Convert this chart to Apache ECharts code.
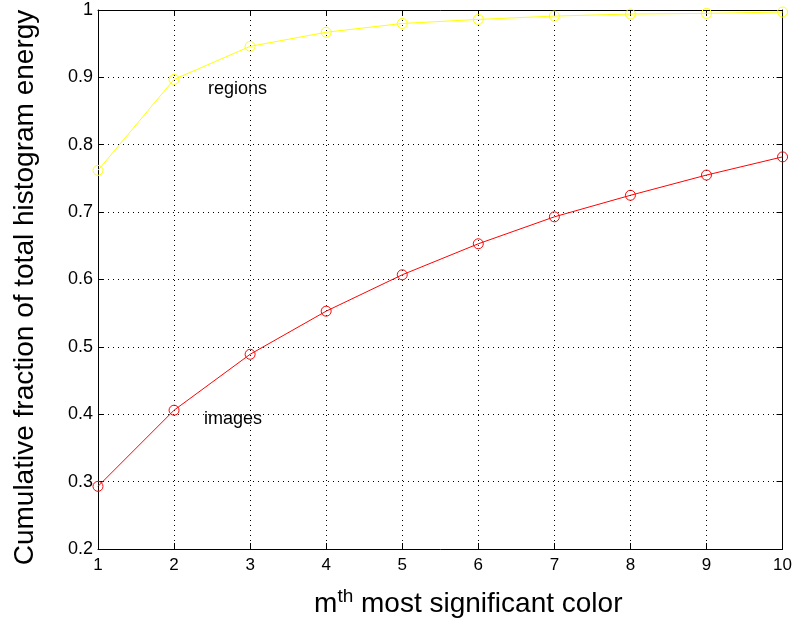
<!DOCTYPE html>
<html><head><meta charset="utf-8">
<script src="https://cdn.jsdelivr.net/npm/echarts@6/dist/echarts.min.js"></script>
<style>html,body{margin:0;padding:0;background:#fff}#c{width:795px;height:626px}</style>
</head><body><div id="c"></div>
<script>
const categories = [1,2,3,4,5,6,7,8,9,10];
const regions = [0.762,0.897,0.946,0.967,0.980,0.986,0.991,0.994,0.995,0.997];
const images  = [0.293,0.406,0.489,0.553,0.607,0.653,0.693,0.725,0.755,0.782];
const yTicks = [0.2,0.3,0.4,0.5,0.6,0.7,0.8,0.9,1];

const font = 'Liberation Sans, Arial, Helvetica, sans-serif';
const chart = echarts.init(document.getElementById('c'));
const pair = (xs, ys) => xs.map((x,i)=>[x, ys[i]]);
const dotted = {show:true, lineStyle:{color:'#000', type:[1,4], width:1}};
chart.setOption({
  animation:false,
  grid:{left:98, top:10, width:687, height:539, containLabel:false, show:false},
  xAxis:[{
    type:'value', min:1, max:10, interval:1,
    axisLine:{show:true, onZero:false, lineStyle:{color:'#000', width:1}},
    axisTick:{show:true, inside:true, length:6, lineStyle:{color:'#000'}},
    axisLabel:{color:'#000', fontSize:17, fontFamily:font, margin:8},
    splitLine:dotted,
    name:'m{sup|th} most significant color', nameLocation:'middle', nameGap:38,
    nameTextStyle:{color:'#000', fontSize:28, fontFamily:font, padding:[0,0,0,56],
      rich:{sup:{fontSize:19, verticalAlign:'top', padding:[0,0,16,0], fontFamily:font, color:'#000'}}}
  },{
    type:'value', min:1, max:10, interval:1, position:'top',
    axisLine:{show:true, onZero:false, lineStyle:{color:'#000', width:1}},
    axisTick:{show:true, inside:true, length:6, lineStyle:{color:'#000'}},
    axisLabel:{show:false}, splitLine:{show:false}
  }],
  yAxis:[{
    type:'value', min:0.2, max:1, interval:0.1,
    axisLine:{show:true, onZero:false, lineStyle:{color:'#000', width:1}},
    axisTick:{show:true, inside:true, length:6, lineStyle:{color:'#000'}},
    axisLabel:{color:'#000', fontSize:18, fontFamily:font, margin:5,
      formatter:v=>{const t=yTicks.find(a=>Math.abs(a-v)<1e-6); return t===undefined?'':String(t);}},
    splitLine:dotted,
    name:'Cumulative fraction of total histogram energy', nameLocation:'middle', nameGap:59,
    nameTextStyle:{color:'#000', fontSize:28, fontFamily:font, padding:[0,16,0,0]}
  },{
    type:'value', min:0.2, max:1, interval:0.1, position:'right',
    axisLine:{show:true, onZero:false, lineStyle:{color:'#000', width:1}},
    axisTick:{show:true, inside:true, length:6, lineStyle:{color:'#000'}},
    axisLabel:{show:false}, splitLine:{show:false}
  }],
  series:[{
    name:'regions', type:'line', data:pair(categories, regions),
    symbol:'circle', symbolSize:10,
    itemStyle:{color:'transparent', borderColor:'#ffff00', borderWidth:1},
    lineStyle:{color:'#ffff00', width:1}
  },{
    name:'images', type:'line', data:pair(categories, images),
    symbol:'circle', symbolSize:10,
    itemStyle:{color:'transparent', borderColor:'#ff0000', borderWidth:1},
    lineStyle:{color:'#ff0000', width:1}
  }],
  graphic:[
    {type:'text', left:208, top:80, style:{text:'regions', fontSize:18, fontFamily:font, fill:'#000'}},
    {type:'text', left:204, top:410, style:{text:'images', fontSize:18, fontFamily:font, fill:'#000'}}
  ]
});
</script></body></html>
